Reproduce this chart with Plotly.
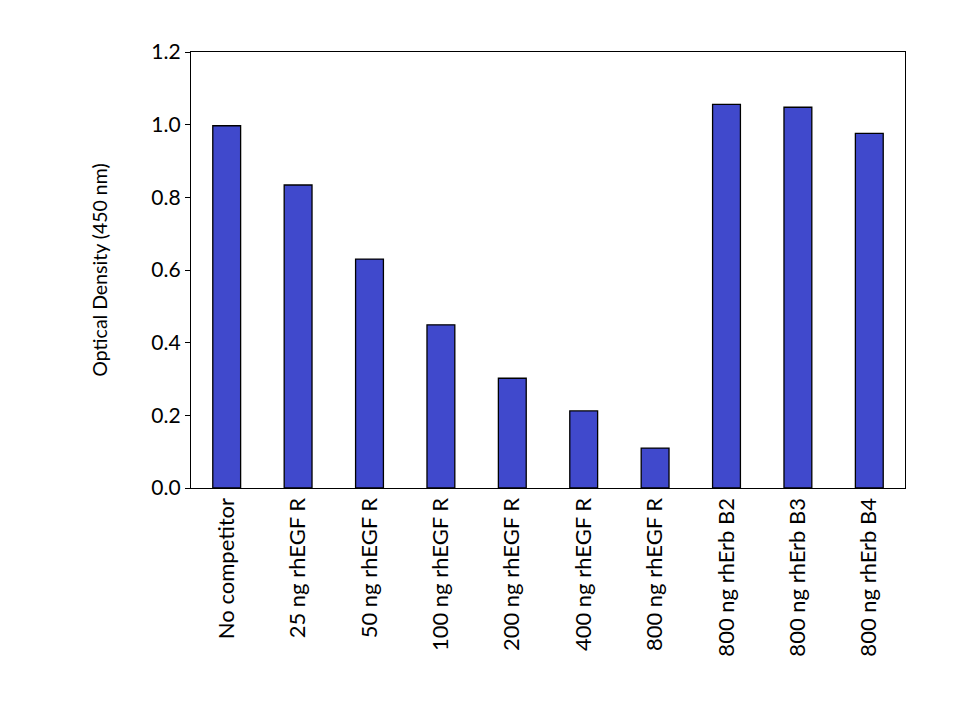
import plotly.graph_objects as go

categories = ["No competitor", "25 ng rhEGF R", "50 ng rhEGF R", "100 ng rhEGF R",
              "200 ng rhEGF R", "400 ng rhEGF R", "800 ng rhEGF R",
              "800 ng rhErb B2", "800 ng rhErb B3", "800 ng rhErb B4"]
values = [0.997, 0.834, 0.630, 0.449, 0.302, 0.212, 0.110, 1.056, 1.048, 0.976]
y_ticks = [0.0, 0.2, 0.4, 0.6, 0.8, 1.0, 1.2]
y_tick_labels = ["0.0", "0.2", "0.4", "0.6", "0.8", "1.0", "1.2"]

fig = go.Figure(go.Bar(
    x=categories, y=values,
    marker=dict(color="rgb(64,73,204)", line=dict(color="black", width=1.3)),
))

fig.update_layout(
    width=960, height=720,
    margin=dict(l=191, r=55, t=52, b=232),
    paper_bgcolor="white", plot_bgcolor="white",
    bargap=0.61,
    showlegend=False,
    font=dict(family="Lato, Open Sans, sans-serif", color="black"),
)
fig.update_xaxes(
    showline=True, linecolor="black", linewidth=1.3, mirror=True,
    ticks="", tickangle=-90, tickfont=dict(size=22),
    showgrid=False,
)
fig.update_yaxes(
    range=[0, 1.2], tickvals=y_ticks, ticktext=y_tick_labels,
    showline=True, linecolor="black", linewidth=1.3, mirror=True,
    ticks="outside", ticklen=5, tickcolor="black",
    tickfont=dict(size=21), showgrid=False, zeroline=False,
    title=dict(text="Optical Density (450 nm)", font=dict(size=19.5), standoff=38),
)

fig.write_html("out.html")
